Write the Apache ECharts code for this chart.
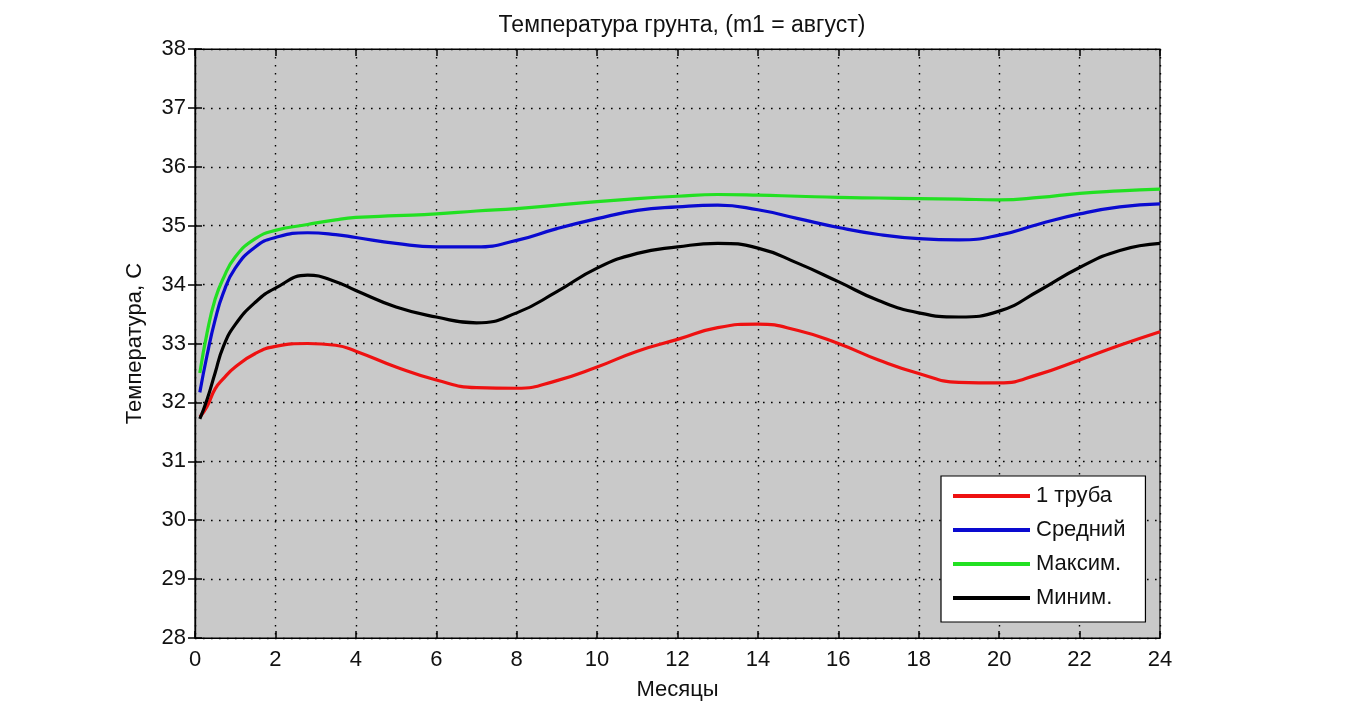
<!DOCTYPE html>
<html><head><meta charset="utf-8">
<script src="https://cdn.jsdelivr.net/npm/echarts@6/dist/echarts.min.js"></script>
<style>html,body{margin:0;padding:0;background:#fff}#c{width:1357px;height:704px}</style>
</head><body><div id="c"></div>
<script>
const months = [0.12,0.3,0.5,0.7,1,1.5,2,2.8,3.5,4,5,6,7,8,9,10,11,12,13,14,15,16,17,18,19,20,21,22,23,24];
const pipe1 = [31.75,31.93,32.23,32.4,32.6,32.83,32.95,33.0,32.97,32.87,32.6,32.38,32.25,32.24,32.37,32.6,32.87,33.07,33.27,33.33,33.22,33.0,32.72,32.49,32.34,32.33,32.48,32.72,32.97,33.2];
const avg = [32.17,32.8,33.4,33.85,34.28,34.64,34.8,34.88,34.85,34.8,34.7,34.64,34.64,34.75,34.95,35.12,35.26,35.32,35.35,35.27,35.12,34.97,34.85,34.78,34.76,34.84,35.03,35.2,35.32,35.37];
const maxT = [32.5,33.18,33.75,34.1,34.47,34.78,34.92,35.02,35.1,35.14,35.17,35.2,35.25,35.29,35.35,35.41,35.46,35.5,35.53,35.52,35.5,35.48,35.47,35.46,35.45,35.44,35.48,35.55,35.59,35.62];
const minT = [31.72,32.05,32.5,32.94,33.32,33.7,33.94,34.16,34.05,33.9,33.62,33.45,33.35,33.52,33.88,34.28,34.53,34.64,34.7,34.62,34.36,34.05,33.73,33.52,33.45,33.55,33.9,34.29,34.58,34.7];
const seriesNames = ['1 труба','Средний','Максим.','Миним.'];
const seriesData = [pipe1, avg, maxT, minT];
const colors = ['#ee1111','#0a0ad0','#22e022','#000000'];
const xTicks = {min:0, max:24, step:2};
const yTicks = {min:28, max:38, step:1};

const FONT = 'Liberation Sans';
const chart = echarts.init(document.getElementById('c'));
const grid = {left:195, top:49, right:197, bottom:66, containLabel:false, outerBoundsMode:'none',
  show:true, backgroundColor:'#c9c9c9', borderColor:'#000', borderWidth:1.2};
const tickStyle = {show:true, inside:true, length:7, lineStyle:{color:'#000', width:1.5}};
const dotted = {show:true, lineStyle:{color:'#000', type:[1.6,6.4], width:1.4}};
chart.setOption({
  animation:false,
  title:{text:'Температура грунта, (m1 = август)', left:677, top:9, textAlign:'center',
    textStyle:{fontFamily:FONT, fontSize:23, fontWeight:'normal', color:'#111'}},
  grid:grid,
  xAxis:[
    {type:'value', min:xTicks.min, max:xTicks.max, interval:xTicks.step, position:'bottom',
     name:'Месяцы', nameLocation:'middle', nameGap:41, nameTextStyle:{fontFamily:FONT, fontSize:22, color:'#111'},
     axisLine:{show:true, lineStyle:{color:'#000', width:1.2}}, axisTick:tickStyle,
     axisLabel:{fontFamily:FONT, fontSize:22, color:'#111', margin:11},
     splitLine:dotted},
    {type:'value', min:xTicks.min, max:xTicks.max, interval:xTicks.step, position:'top',
     axisLine:{show:true, lineStyle:{color:'#000', width:1.2}}, axisTick:tickStyle,
     axisLabel:{show:false}, splitLine:{show:false}}
  ],
  yAxis:[
    {type:'value', min:yTicks.min, max:yTicks.max, interval:yTicks.step, position:'left',
     name:'Температура, С', nameLocation:'middle', nameGap:49, nameTextStyle:{fontFamily:FONT, fontSize:22, color:'#111'},
     axisLine:{show:true, lineStyle:{color:'#000', width:1.2}}, axisTick:tickStyle,
     axisLabel:{fontFamily:FONT, fontSize:22, color:'#111', margin:9},
     splitLine:dotted},
    {type:'value', min:yTicks.min, max:yTicks.max, interval:yTicks.step, position:'right',
     axisLine:{show:true, lineStyle:{color:'#000', width:1.2}}, axisTick:tickStyle,
     axisLabel:{show:false}, splitLine:{show:false}}
  ],
  legend:{orient:'vertical', left:941, top:476, backgroundColor:'#fff', borderColor:'#000', borderWidth:1.2,
    padding:[9,20,13,12], itemGap:12, itemWidth:77, itemHeight:4, icon:'rect', data:seriesNames,
    textStyle:{fontFamily:FONT, fontSize:22, color:'#111', padding:[0,0,0,1]}},
  series: seriesNames.map((n,i)=>({
    name:n, type:'line', smooth:0.5, symbol:'none', xAxisIndex:0, yAxisIndex:0,
    data: months.map((m,j)=>[m, seriesData[i][j]]),
    lineStyle:{color:colors[i], width:3.2}, itemStyle:{color:colors[i]}
  }))
});
</script></body></html>
